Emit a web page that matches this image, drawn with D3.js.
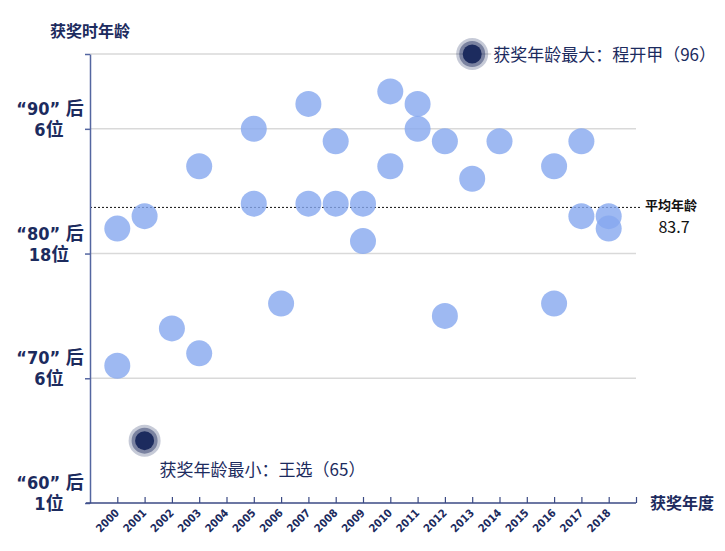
<!DOCTYPE html>
<html>
<head>
	<meta charset="utf-8">
	<title>获奖时年龄</title>
	<script src="https://d3js.org/d3.v7.min.js"></script>
	<style>
		body{
			margin: 0;
			background: #fff;
		}
		svg{
			display: block;
			font-family: "Noto Sans CJK SC", "Noto Sans", sans-serif;
		}
	</style>
</head>
<body>
	<script>
		// award year and age at award, one entry per laureate
		var awardYears = [2000, 2000, 2001, 2001, 2002, 2003, 2003, 2005, 2005, 2006,
		                  2007, 2007, 2008, 2008, 2009, 2009, 2010, 2010, 2011, 2011,
		                  2012, 2012, 2013, 2013, 2014, 2016, 2016, 2017, 2017, 2018, 2018]
		var awardAges  = [82, 71, 83, 65, 74, 87, 72, 90, 84, 76,
		                  92, 84, 89, 84, 84, 81, 93, 87, 92, 90,
		                  89, 75, 86, 96, 89, 87, 76, 89, 83, 83, 82]
		var xTickYears = d3.range(2000, 2020)
		var yTickValues = [60, 70, 80, 90, 96]
		var groupAges = [60, 70, 80, 90]
		var groupNames = ['“60” 后', '“70” 后', '“80” 后', '“90” 后']
		var groupCounts = ['1位', '6位', '18位', '6位']
		var averageAge = 83.7
		var oldest = {year: 2013, age: 96, name: '程开甲'}
		var youngest = {year: 2001, age: 65, name: '王选'}

		var navy = '#1c2b5e'
		var width = 725, height = 551

		const svg = d3.select('body').append('svg')
					  .attr('width', width)
					  .attr('height', height)

		const x = d3.scaleLinear().domain([1999, 2019]).range([90, 636])
		const y = d3.scaleLinear().domain([60, 96]).range([503, 54])

		// gridlines
		svg.append('g').selectAll('line').data(yTickValues.filter(v => v > 60)).enter()
		   .append('line')
		   .attr('x1', x(1999)).attr('x2', x(2019))
		   .attr('y1', d => y(d)).attr('y2', d => y(d))
		   .attr('stroke', '#d9d9d9')
		   .attr('stroke-width', 1.5)

		// average line
		svg.append('line')
		   .attr('x1', x(1999)).attr('x2', 640)
		   .attr('y1', y(averageAge)).attr('y2', y(averageAge))
		   .attr('stroke', '#111')
		   .attr('stroke-width', 1)
		   .attr('stroke-dasharray', '2,2')

		// axes
		const yAxis = d3.axisLeft(y).tickValues(yTickValues).tickSize(5).tickFormat('').tickSizeOuter(0)
		const gy = svg.append('g').attr('transform', 'translate(' + x(1999) + ',0)').call(yAxis)
		gy.select('.domain').attr('stroke', '#5466a0').attr('stroke-width', 1.5)
		gy.selectAll('.tick line').attr('stroke', '#5466a0').attr('stroke-width', 1.5)

		const xAxis = d3.axisBottom(x).tickValues(xTickYears)
						.tickSizeInner(-6).tickSizeOuter(0)
						.tickFormat(d => d === 2019 ? '' : d)
		const gx = svg.append('g').attr('transform', 'translate(0,' + y(60) + ')').call(xAxis)
		gx.select('.domain').attr('stroke', '#3b4a85').attr('stroke-width', 1.5).attr('d', 'M86,0H' + x(2019))
		gx.selectAll('.tick line').attr('stroke', '#3b4a85').attr('stroke-width', 1.2)
		gx.selectAll('.tick text')
		  .attr('x', -6).attr('y', 9).attr('dy', null)
		  .attr('text-anchor', 'end')
		  .attr('transform', 'rotate(-45)')
		  .attr('fill', navy)
		  .style('font-size', '11px')
		  .style('font-weight', 'bold')
		  .style('font-family', '"DejaVu Sans Condensed", "DejaVu Sans", sans-serif')

		// y group labels, two lines each
		const ylab = svg.append('g')
		ylab.selectAll('text.name').data(groupAges).enter()
			.append('text')
			.attr('class', 'name')
			.attr('x', 50).attr('y', d => y(d) - 14)
			.text((d, i) => groupNames[i])
		ylab.selectAll('text.count').data(groupAges).enter()
			.append('text')
			.attr('class', 'count')
			.attr('x', 49).attr('y', d => y(d) + 7)
			.text((d, i) => groupCounts[i])
		ylab.selectAll('text')
			.attr('text-anchor', 'middle')
			.attr('fill', navy)
			.style('font-size', '18px')
			.style('font-weight', 'bold')
			.style('font-family', '"DejaVu Sans Condensed", "Noto Sans CJK SC", sans-serif')

		// points
		const points = awardYears.map((yr, i) => ({year: yr, age: awardAges[i]}))
		svg.append('g').selectAll('circle')
		   .data(points.filter(d => !(d.age === oldest.age && d.year === oldest.year) && !(d.age === youngest.age && d.year === youngest.year)))
		   .enter()
		   .append('circle')
		   .attr('cx', d => x(d.year))
		   .attr('cy', d => y(d.age))
		   .attr('r', 13)
		   .attr('fill', '#86a8ef')
		   .attr('fill-opacity', 0.8)

		// highlighted extremes
		const marks = [oldest, youngest]
		const hl = svg.append('g').selectAll('g').data(marks).enter()
					  .append('g')
					  .attr('transform', d => 'translate(' + x(d.year) + ',' + y(d.age) + ')')
		hl.append('circle').attr('r', 16).attr('fill', navy).attr('fill-opacity', 0.25)
		hl.append('circle').attr('r', 13).attr('fill', navy).attr('fill-opacity', 0.45)
		hl.append('circle').attr('r', 9.5).attr('fill', navy)

		function note(txt, tx, ty){
			const g = svg.append('g')
			const t = g.append('text')
					   .attr('x', tx).attr('y', ty)
					   .attr('fill', navy)
					   .style('font-size', '17px')
					   .text(txt)
			const b = t.node().getBBox()
			g.insert('rect', 'text')
			 .attr('x', b.x - 2).attr('y', b.y)
			 .attr('width', b.width + 4).attr('height', b.height)
			 .attr('fill', '#fff')
		}
		note('获奖年龄最大：' + oldest.name + '（' + oldest.age + '）', x(oldest.year) + 21, y(oldest.age) + 7)
		note('获奖年龄最小：' + youngest.name + '（' + youngest.age + '）', x(youngest.year) + 15, y(youngest.age) + 35)

		// average label
		svg.append('text')
		   .attr('x', 671).attr('y', y(averageAge) + 3)
		   .attr('text-anchor', 'middle')
		   .attr('fill', '#111')
		   .style('font-size', '13px')
		   .style('font-weight', 'bold')
		   .text('平均年龄')
		svg.append('text')
		   .attr('x', 674).attr('y', y(averageAge) + 26)
		   .attr('text-anchor', 'middle')
		   .attr('fill', '#111')
		   .style('font-size', '16px')
		   .text(averageAge)

		// axis titles
		svg.append('text')
		   .attr('x', 90).attr('y', 37)
		   .attr('text-anchor', 'middle')
		   .attr('fill', navy)
		   .style('font-size', '16px')
		   .style('font-weight', 'bold')
		   .text('获奖时年龄')
		svg.append('text')
		   .attr('x', 650).attr('y', 509)
		   .attr('fill', navy)
		   .style('font-size', '16px')
		   .style('font-weight', 'bold')
		   .text('获奖年度')
	</script>
</body>
</html>
